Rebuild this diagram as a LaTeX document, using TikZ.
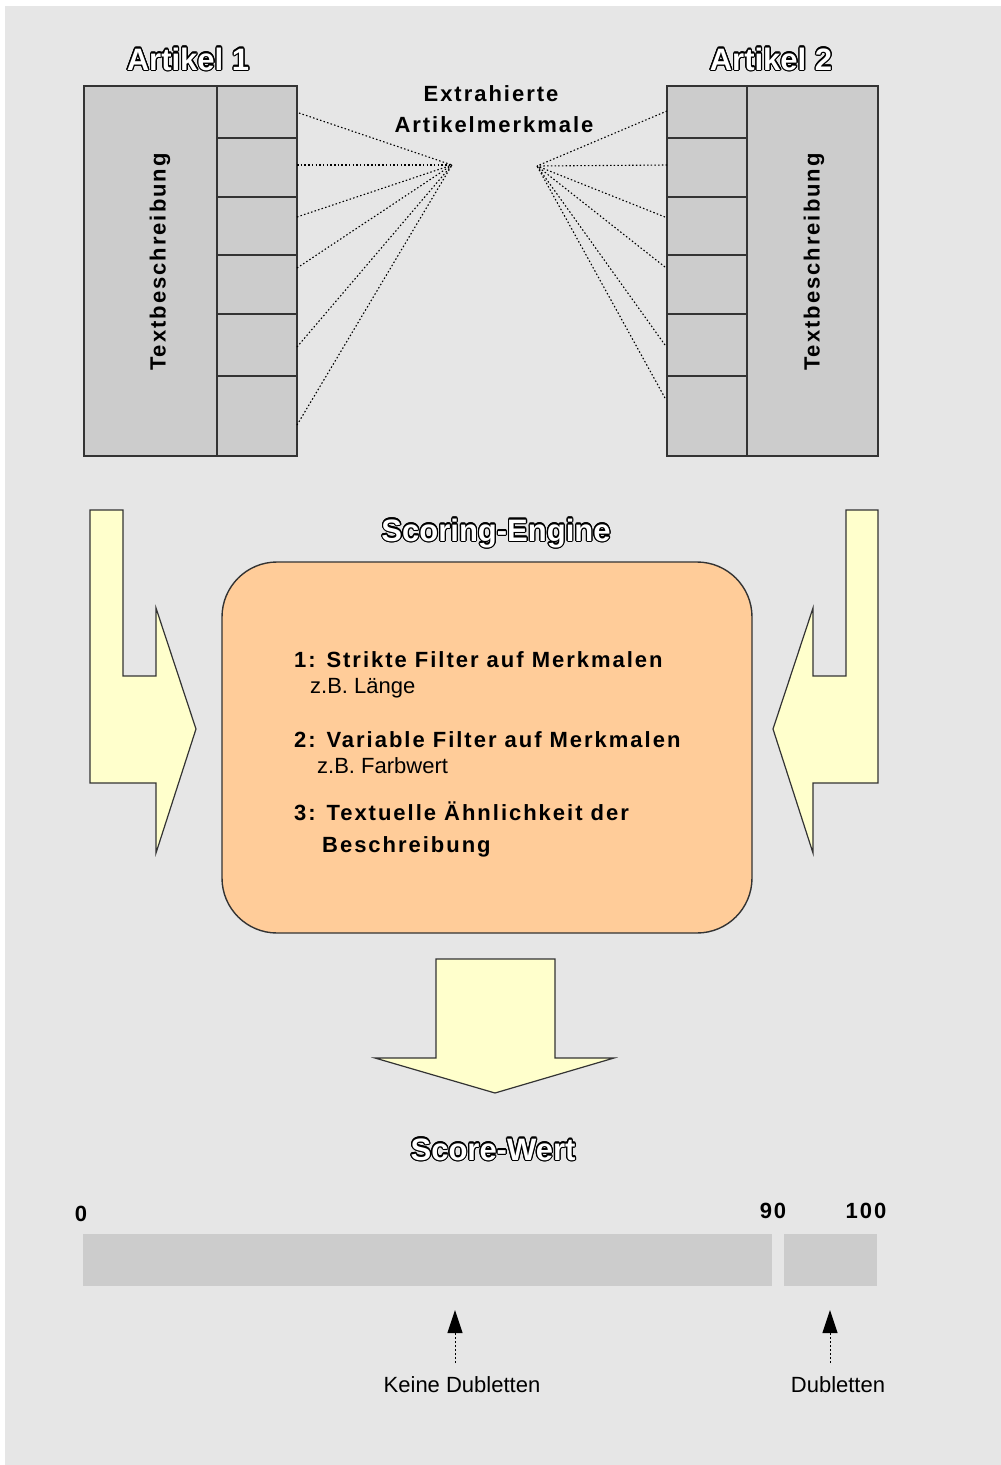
\documentclass[tikz,border=0pt]{standalone}
\usepackage{fontspec}
\setmainfont{Liberation Sans}
\newfontfamily\spc{Liberation Sans}[LetterSpace=9]
\usepackage{contour}
\contourlength{1.2pt}
\usetikzlibrary{arrows.meta}
\definecolor{bg}{HTML}{E6E6E6}
\definecolor{boxgray}{HTML}{CCCCCC}
\definecolor{pale}{HTML}{FFFFCC}
\definecolor{peach}{HTML}{FFCC99}
\definecolor{edge}{HTML}{333333}
\begin{document}
\begin{tikzpicture}[x=1pt,y=-1pt,
  outl/.style={draw=edge, line width=1.4pt},
  arrowshape/.style={draw=edge, line width=1.2pt, fill=pale, line join=miter},
  title/.style={font=\fontsize{31}{31}\selectfont\bfseries, inner sep=0pt, anchor=base},
  boldtxt/.style={font=\spc\fontsize{22}{22}\selectfont\bfseries, inner sep=0pt},
  plaintxt/.style={font=\fontsize{22}{22}\selectfont, inner sep=0pt},
  fan/.style={draw=black, line width=1.1pt, dash pattern=on 1.5pt off 2.2pt},
  pointer/.style={draw=black, line width=1pt, dash pattern=on 2pt off 2pt, -{Triangle[length=23pt,width=15pt]}}]
\useasboundingbox (0,0) rectangle (1001,1465);
\fill[white] (0,0) rectangle (1001,1465);
\fill[bg] (5,6) rectangle (1001,1465);

% Titles
\node[title] (a1) at (188,70) {\contour{black}{\textcolor{white}{Artikel 1}}};
\node[title] (a2) at (771,70) {\contour{black}{\textcolor{white}{Artikel 2}}};
\node[boldtxt, anchor=base] (ex1) at (491,101) {Extrahierte};
\node[boldtxt, anchor=base] (ex2) at (494,132) {Artikelmerkmale};

% Artikel 1 box
\draw[outl, fill=boxgray] (84,86) rectangle (297,456);
\draw[outl] (217,86) -- (217,456);
\foreach \y in {138,197,255,314,376} \draw[outl] (217,\y) -- (297,\y);
\node[boldtxt, rotate=90] (tb1) at (160,262) {Textbeschreibung};

% Artikel 2 box
\draw[outl, fill=boxgray] (667,86) rectangle (878,456);
\draw[outl] (747,86) -- (747,456);
\foreach \y in {138,197,255,314,376} \draw[outl] (667,\y) -- (747,\y);
\node[boldtxt, rotate=90] (tb2) at (814,262) {Textbeschreibung};

% Fans
\coordinate (fl) at (452,165);
\coordinate (fr) at (537,166);
\foreach \px/\py [count=\i] in {299/113,297/165,297/217,297/268,297/347,297/425}
  {\coordinate (l\i) at (\px,\py); \draw[fan] (l\i) -- (fl);}
\foreach \px/\py [count=\i] in {667/111,667/165,665/217,665/267,665/345,665/398}
  {\coordinate (r\i) at (\px,\py); \draw[fan] (r\i) -- (fr);}

% Scoring engine
\node[title] (se) at (496,541) {\contour{black}{\textcolor{white}{Scoring-Engine}}};
\node[draw=edge, line width=1.4pt, fill=peach, rounded corners=55pt,
      minimum width=530pt, minimum height=371pt, inner sep=0pt] (engine) at (487,747.5) {};
\node[boldtxt, anchor=base west] (s1) at (294,667) {1: Strikte Filter auf Merkmalen};
\node[plaintxt, anchor=base west] (s1b) at (310,693) {z.B. Länge};
\node[boldtxt, anchor=base west] (s2) at (294,747) {2: Variable Filter auf Merkmalen};
\node[plaintxt, anchor=base west] (s2b) at (317,773) {z.B. Farbwert};
\node[boldtxt, anchor=base west] (s3) at (294,820) {3: Textuelle Ähnlichkeit der};
\node[boldtxt, anchor=base west] (s3b) at (322,852) {Beschreibung};

% Side arrows
\draw[arrowshape] (90,510) -- (123,510) -- (123,676) -- (156,676) -- (156,608) -- (196,729)
  -- (156,853) -- (156,783) -- (90,783) -- cycle;
\draw[arrowshape] (878,510) -- (846,510) -- (846,676) -- (813,676) -- (813,608) -- (773,729)
  -- (813,853) -- (813,783) -- (878,783) -- cycle;
% Down arrow
\draw[arrowshape] (436,959) -- (555,959) -- (555,1058) -- (614,1058) -- (495,1093)
  -- (375,1058) -- (436,1058) -- cycle;

% Score
\node[title] (sw) at (493,1160) {\contour{black}{\textcolor{white}{Score-Wert}}};
\node[boldtxt, anchor=base] (n0) at (81,1221) {0};
\node[boldtxt, anchor=base] (n90) at (773,1218) {90};
\node[boldtxt, anchor=base] (n100) at (866,1218) {100};
\fill[boxgray] (83,1234) rectangle (772,1286);
\fill[boxgray] (784,1234) rectangle (877,1286);

\coordinate (k0) at (455,1363); \coordinate (k1) at (455,1310);
\coordinate (d0) at (830,1363); \coordinate (d1) at (830,1310);
\draw[pointer] (k0) -- (k1);
\draw[pointer] (d0) -- (d1);
\node[plaintxt, anchor=base] (kd) at (462,1392) {Keine Dubletten};
\node[plaintxt, anchor=base] (dd) at (838,1392) {Dubletten};
\end{tikzpicture}
\end{document}
